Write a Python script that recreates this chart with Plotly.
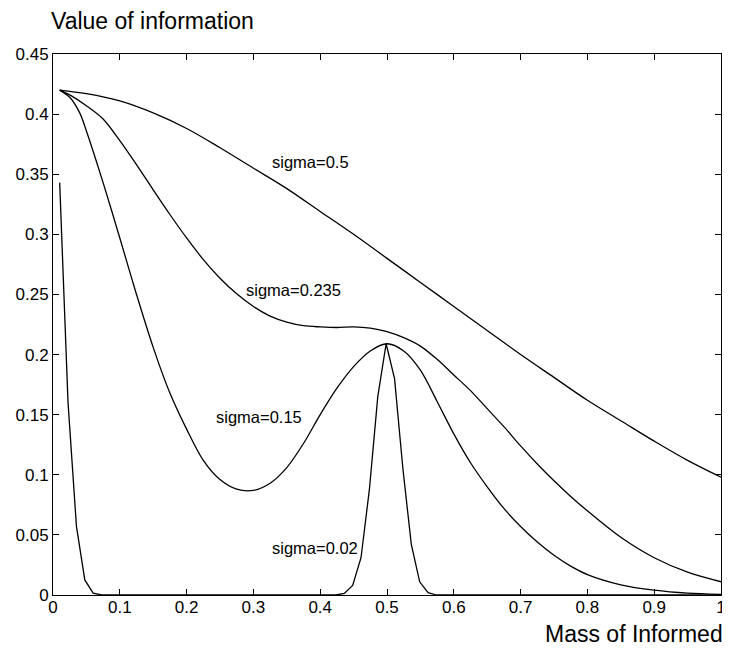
import plotly.graph_objects as go

# --- data ---
x_s050 = [0.01, 0.05, 0.1, 0.15, 0.2, 0.25, 0.3, 0.35, 0.4, 0.45, 0.5, 0.55, 0.6, 0.65, 0.7, 0.75, 0.8, 0.85, 0.9, 0.95, 1.0]
y_s050 = [0.420, 0.417, 0.411, 0.401, 0.388, 0.372, 0.355, 0.338, 0.319, 0.300, 0.280, 0.260, 0.240, 0.220, 0.200, 0.181, 0.162, 0.145, 0.128, 0.112, 0.098]

x_s0235 = [0.01, 0.025, 0.05, 0.075, 0.1, 0.125, 0.15, 0.175, 0.2, 0.225, 0.25, 0.275, 0.3, 0.325, 0.35, 0.375, 0.4, 0.425, 0.45, 0.475, 0.5, 0.525, 0.55, 0.575, 0.6, 0.625, 0.65, 0.675, 0.7, 0.725, 0.75, 0.775, 0.8, 0.85, 0.9, 0.95, 1.0]
y_s0235 = [0.420, 0.416, 0.407, 0.396, 0.378, 0.358, 0.337, 0.3165, 0.297, 0.279, 0.2635, 0.2505, 0.240, 0.232, 0.227, 0.224, 0.223, 0.2225, 0.223, 0.222, 0.219, 0.214, 0.207, 0.196, 0.183, 0.170, 0.155, 0.140, 0.124, 0.109, 0.095, 0.082, 0.070, 0.048, 0.031, 0.019, 0.011]

x_s015 = [0.01, 0.025, 0.04, 0.05, 0.075, 0.1, 0.125, 0.15, 0.175, 0.2, 0.225, 0.25, 0.275, 0.3, 0.325, 0.35, 0.375, 0.4, 0.425, 0.45, 0.475, 0.5, 0.525, 0.55, 0.575, 0.6, 0.625, 0.65, 0.675, 0.7, 0.725, 0.75, 0.775, 0.8, 0.85, 0.9, 0.95, 1.0]
y_s015 = [0.420, 0.414, 0.401, 0.386, 0.343, 0.297, 0.250, 0.206, 0.168, 0.138, 0.112, 0.096, 0.088, 0.087, 0.093, 0.106, 0.126, 0.150, 0.172, 0.190, 0.203, 0.209, 0.203, 0.187, 0.161, 0.134, 0.110, 0.090, 0.072, 0.057, 0.044, 0.033, 0.024, 0.017, 0.0085, 0.004, 0.0015, 0.0005]

x_s002 = [0.01, 0.0225, 0.0351, 0.0476, 0.0601, 0.0727, 0.4236, 0.4361, 0.4486, 0.4611, 0.4737, 0.4862, 0.4987, 0.5113, 0.5238, 0.5364, 0.5489, 0.5615, 0.574, 1.0]
y_s002 = [0.343, 0.160, 0.057, 0.0125, 0.0015, 0.0, 0.0, 0.0013, 0.008, 0.031, 0.088, 0.165, 0.209, 0.180, 0.105, 0.042, 0.011, 0.002, 0.0, 0.0]

x_ticks = [0, 0.1, 0.2, 0.3, 0.4, 0.5, 0.6, 0.7, 0.8, 0.9, 1.0]
x_ticktext = ["0", "0.1", "0.2", "0.3", "0.4", "0.5", "0.6", "0.7", "0.8", "0.9", "1"]
y_ticks = [0, 0.05, 0.1, 0.15, 0.2, 0.25, 0.3, 0.35, 0.4, 0.45]
y_ticktext = ["0", "0.05", "0.1", "0.15", "0.2", "0.25", "0.3", "0.35", "0.4", "0.45"]

labels = ["sigma=0.5", "sigma=0.235", "sigma=0.15", "sigma=0.02"]
label_x = [0.3255, 0.2855, 0.241, 0.325]
label_y = [0.360, 0.2535, 0.148, 0.039]

FONT = "Liberation Sans, Helvetica, Arial, sans-serif"
line = dict(color="black", width=1.3)

fig = go.Figure()
fig.add_trace(go.Scatter(x=x_s050, y=y_s050, mode="lines", line=dict(**line, shape="spline", smoothing=1.0)))
fig.add_trace(go.Scatter(x=x_s0235, y=y_s0235, mode="lines", line=dict(**line, shape="spline", smoothing=0.9)))
fig.add_trace(go.Scatter(x=x_s015, y=y_s015, mode="lines", line=dict(**line, shape="spline", smoothing=0.9)))
fig.add_trace(go.Scatter(x=x_s002, y=y_s002, mode="lines", line=dict(**line)))

for t, lx, ly in zip(labels, label_x, label_y):
    fig.add_annotation(x=lx, y=ly, xref="x", yref="y", text=t, showarrow=False,
                       xanchor="left", yanchor="middle", font=dict(size=16.5, color="black", family=FONT))

fig.add_annotation(x=-0.006, y=1.061, xref="paper", yref="paper", text="Value of information",
                   showarrow=False, xanchor="left", yanchor="middle", font=dict(size=23, color="black", family=FONT))
fig.add_annotation(x=1.006, y=-0.072, xref="paper", yref="paper", text="Mass of Informed",
                   showarrow=False, xanchor="right", yanchor="middle", font=dict(size=23, color="black", family=FONT))

axis_common = dict(showline=True, linecolor="black", linewidth=1, mirror="ticks", ticks="inside",
                   ticklen=6, tickcolor="black", tickwidth=1, showgrid=False, zeroline=False,
                   tickfont=dict(size=17, color="black", family=FONT))
fig.update_xaxes(range=[0, 1], tickvals=x_ticks, ticktext=x_ticktext, ticklabelstandoff=-3, **axis_common)
fig.update_yaxes(range=[0, 0.45], tickvals=y_ticks, ticktext=y_ticktext, **axis_common)

# page body has an 8px margin; figure sized to fill the remaining 730x650 window
fig.update_layout(width=722, height=642, showlegend=False,
                  margin=dict(l=44.5, r=8.5, t=45.5, b=55, autoexpand=False),
                  plot_bgcolor="white", paper_bgcolor="white",
                  font=dict(family=FONT, color="black"))

fig.write_html("out.html")
